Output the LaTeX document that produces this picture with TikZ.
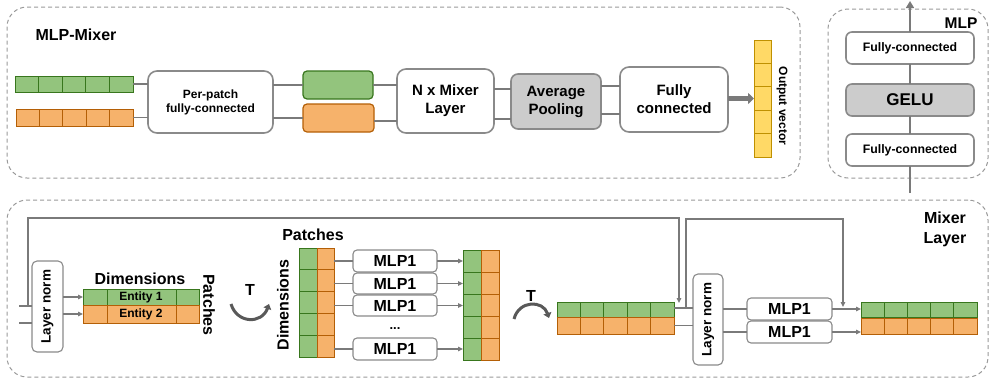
\documentclass[tikz,border=0pt]{standalone}
\usepackage{fontspec}
\setmainfont{Liberation Sans}
\usetikzlibrary{arrows.meta,calc}
\definecolor{gfill}{HTML}{93C47D}
\definecolor{gline}{HTML}{38761D}
\definecolor{ofill}{HTML}{F6B26B}
\definecolor{oline}{HTML}{B45F06}
\definecolor{yfill}{HTML}{FFD966}
\definecolor{yline}{HTML}{BF9000}
\definecolor{bord}{HTML}{8A8A8A}
\definecolor{conn}{HTML}{7A7A7A}
\definecolor{gelu}{HTML}{CCCCCC}
\definecolor{frame}{HTML}{9A9A9A}
\definecolor{curv}{HTML}{595959}
\newcommand\fs[2]{\fontsize{#1}{#2}\selectfont}
\newcommand\mkbox[7][]{%
  \pgfmathsetmacro\bxX{(#3+#5)/2}\pgfmathsetmacro\bxY{(#4+#6)/2}%
  \pgfmathsetmacro\bxW{abs(#5-#3)}\pgfmathsetmacro\bxH{abs(#6-#4)}%
  \node[#1, minimum width=\bxW pt, minimum height=\bxH pt] (#2) at (\bxX,\bxY) {#7};}
\newcommand\hcells[3]{\foreach \i in {1,...,#2}{\ifnum\i<#2\relax
  \draw[#3] ($(#1.south west)!{\i/#2}!(#1.south east)$) -- ($(#1.north west)!{\i/#2}!(#1.north east)$);\fi}}
\newcommand\vcells[3]{\foreach \i in {1,...,#2}{\ifnum\i<#2\relax
  \draw[#3] ($(#1.north west)!{\i/#2}!(#1.south west)$) -- ($(#1.north east)!{\i/#2}!(#1.south east)$);\fi}}
\tikzset{
  rect/.style={inner sep=0pt, outer sep=0pt},
  grw/.style={rect, draw=gline, fill=gfill, line width=1pt},
  orw/.style={rect, draw=oline, fill=ofill, line width=1pt},
  yrw/.style={rect, draw=yline, fill=yfill, line width=1pt},
  gcl/.style={draw=gline, line width=1pt},
  ocl/.style={draw=oline, line width=1pt},
  ycl/.style={draw=yline, line width=1pt},
  rbox/.style={rect, draw=bord, line width=1.6pt, fill=white, rounded corners=9pt, align=center, font=\bfseries\fs{15}{18}},
  sbox/.style={rect, draw=bord, line width=1.1pt, fill=white, rounded corners=4pt, align=center, font=\bfseries\fs{16}{18}},
  frm/.style={rect, draw=frame, line width=1pt, dash pattern=on 4pt off 3pt, rounded corners=20pt},
  cn/.style={draw=conn, line width=1.2pt},
  cna/.style={cn, -{Triangle[length=5pt,width=4.5pt]}},
  lbl/.style={font=\bfseries\fs{16}{20}, inner sep=0pt, align=center},
  tarc/.style={draw=curv, line width=3pt, -{Triangle[length=5pt,width=8pt]}},
}
\begin{document}
\begin{tikzpicture}[x=1pt,y=-1pt]
\useasboundingbox (0,0) rectangle (990,381);
% frames
\mkbox[frm]{fmix}{7}{7}{800}{178}{}
\mkbox[frm]{fmlp}{828}{9}{988}{178}{}
\mkbox[frm]{flay}{7}{200}{988}{377}{}
\node[lbl] (tmix) at (76,35) {MLP-Mixer};
\node[lbl, font=\bfseries\fs{15.5}{18}] (tmlp) at (961,23) {MLP};
\node[lbl] (tlay) at (945,229) {Mixer\\Layer};

% ===== top: MLP-Mixer =====
\mkbox[grw]{gr1}{15}{76}{133}{92}{}
\hcells{gr1}{5}{gcl}
\mkbox[orw]{or1}{16}{109}{133}{126}{}
\hcells{or1}{5}{ocl}
\mkbox[rbox, font=\bfseries\fs{12}{14}]{pp}{148}{71}{273}{133}{Per-patch\\fully-connected}
\mkbox[rect, draw=gline, fill=gfill, line width=1.2pt, rounded corners=4pt]{gb}{303}{71}{373}{99}{}
\mkbox[rect, draw=oline, fill=ofill, line width=1.2pt, rounded corners=4pt]{ob}{303}{104}{374}{132}{}
\mkbox[rbox]{nx}{397}{69}{494}{133}{N x Mixer\\Layer}
\mkbox[rbox, fill=gelu, rounded corners=7pt]{ap}{511}{74}{601}{129}{Average\\Pooling}
\mkbox[rbox]{fc}{620}{67}{728}{132}{Fully\\connected}
\mkbox[yrw]{ov}{754}{40}{771}{157}{}
\vcells{ov}{5}{ycl}
\node[lbl, font=\bfseries\fs{12}{14}, rotate=-90] (ovt) at (782,106) {Output vector};

\draw[cn] (gr1.east) -- (pp.west |- gr1.east);
\draw[cn] (or1.east) -- (pp.west |- or1.east);
\draw[cn] (pp.east |- gb.west) -- (gb.west);
\draw[cn] (pp.east |- ob.west) -- (ob.west);
\draw[cn] (gb.east) -- (nx.west |- gb.east);
\draw[cn] (ob.east |- 0,121) -- (nx.west |- 0,121);
\draw[cn] (nx.east |- 0,89) -- (ap.west |- 0,89);
\draw[cn] (nx.east |- 0,119) -- (ap.west |- 0,119);
\draw[cn] (ap.east |- 0,86) -- (fc.west |- 0,86);
\draw[cn] (ap.east |- 0,114) -- (fc.west |- 0,114);
\draw[draw=conn, line width=4.5pt, -{Triangle[length=6pt,width=11pt]}] (fc.east |- ov.west) -- (ov.west);

% ===== top: MLP =====
\coordinate (mb) at (910,193);
\coordinate (mt) at (910,1);
\mkbox[rbox, font=\bfseries\fs{12.3}{14}, rounded corners=6pt]{fc1}{846}{32}{974}{64}{Fully-connected}
\mkbox[rbox, font=\bfseries\fs{17}{18}, fill=gelu, rounded corners=6pt]{gl}{846}{84}{974}{116}{GELU}
\mkbox[rbox, font=\bfseries\fs{12.3}{14}, rounded corners=6pt]{fc2}{846}{134}{974}{166}{Fully-connected}
\draw[cn, line width=1.6pt] (mb) -- (fc2.south);
\draw[cn, line width=1.6pt] (fc2.north) -- (gl.south);
\draw[cn, line width=1.6pt] (gl.north) -- (fc1.south);
\draw[cn, line width=1.6pt, -{Triangle[length=7pt,width=8pt]}] (fc1.north) -- (mt);

% ===== bottom: Mixer Layer =====
\coordinate (i1) at (19,306);
\coordinate (i2) at (19,323);
\coordinate (s1) at (28,306);
\coordinate (s1t) at (679,303);
\coordinate (s2) at (686,308);
\coordinate (s2t) at (843,307);
\draw[cna] (s1) |- ($(s1t)+(0,-85)$) -- (s1t);
\draw[cna] (s2) |- ($(s2t)+(0,-88)$) -- (s2t);

\mkbox[sbox, rounded corners=5pt]{ln1}{32}{261}{63}{352}{}
\node[lbl, font=\bfseries\fs{13.5}{16}, rotate=90] (ln1t) at (ln1.center) {Layer norm};
\draw[cn] (i1) -- (ln1.west |- i1);
\draw[cn] (i2) -- (ln1.west |- i2);

\mkbox[grw, font=\bfseries\fs{12}{14}]{dg}{83}{289}{199}{305}{Entity 1}
\mkbox[orw, font=\bfseries\fs{12}{14}]{do}{83}{305}{199}{323}{Entity 2}
\draw[gcl] (107,289) -- (107,305);
\draw[gcl] (176,289) -- (176,305);
\draw[ocl] (107,305) -- (107,323);
\draw[ocl] (176,305) -- (176,323);
\draw[cna] (ln1.east |- dg.west) -- (dg.west);
\draw[cna] (ln1.east |- do.west) -- (do.west);
\node[lbl] (tdim) at (140,279) {Dimensions};
\node[lbl, rotate=-90] (tpat) at (209,305) {Patches};

\node[lbl] (t1) at (250,290) {T};
\draw[tarc] (231,304) .. controls (237,324) and (262,324) .. (269,304);

\mkbox[grw]{pg}{299}{248}{317}{357}{}
\vcells{pg}{5}{gcl}
\mkbox[orw]{po}{317}{248}{334}{357}{}
\vcells{po}{5}{ocl}
\node[lbl] (tpat2) at (313,235) {Patches};
\node[lbl, rotate=90] (tdim2) at (283,305) {Dimensions};

\mkbox[sbox]{m1}{353}{250}{437}{272}{MLP1}
\mkbox[sbox]{m2}{353}{273}{437}{294}{MLP1}
\mkbox[sbox]{m3}{353}{295}{437}{316}{MLP1}
\mkbox[sbox]{m4}{353}{338}{437}{360}{MLP1}
\node[lbl, font=\bfseries\fs{13}{14}] (dots) at (395,329) {...};

\mkbox[grw]{qg}{463}{250}{481}{360}{}
\vcells{qg}{5}{gcl}
\mkbox[orw]{qo}{481}{250}{499}{360}{}
\vcells{qo}{5}{ocl}

\draw[cn] (po.east |- m1.west) -- (m1.west);
\draw[cn] (po.east |- m2.west) -- (m2.west);
\draw[cn] (po.east |- m3.west) -- (m3.west);
\draw[cn] (po.east |- m4.west) -- (m4.west);
\draw[cna] (m1.east) -- (qg.west |- m1.east);
\draw[cna] (m2.east) -- (qg.west |- m2.east);
\draw[cna] (m3.east) -- (qg.west |- m3.east);
\draw[cna] (m4.east) -- (qg.west |- m4.east);

\node[lbl] (t2) at (531,296) {T};
\draw[tarc] (514,319) .. controls (519,300) and (543,300) .. (549,318);

\mkbox[grw]{rg}{557}{302}{674}{317}{}
\hcells{rg}{5}{gcl}
\mkbox[orw]{ro}{557}{317}{674}{334}{}
\hcells{ro}{5}{ocl}

\mkbox[sbox, rounded corners=5pt]{ln2}{693}{274}{723}{365}{}
\node[lbl, font=\bfseries\fs{13.5}{16}, rotate=90] (ln2t) at (ln2.center) {Layer norm};
\draw[cn] (rg.east |- s2) -- (ln2.west |- s2);
\draw[cn] (ro.east) -- (ln2.west |- ro.east);

\mkbox[sbox]{n1}{747}{298}{832}{320}{MLP1}
\mkbox[sbox]{n2}{747}{321}{832}{343}{MLP1}
\draw[cn] (ln2.east |- n1.west) -- (n1.west);
\draw[cn] (ln2.east |- n2.west) -- (n2.west);

\mkbox[grw]{og}{861}{302}{977}{317}{}
\hcells{og}{5}{gcl}
\mkbox[orw]{oo}{861}{318}{977}{334}{}
\hcells{oo}{5}{ocl}
\draw[cna] (n1.east) -- (og.west |- n1.east);
\draw[cna] (n2.east) -- (oo.west |- n2.east);
\end{tikzpicture}
\end{document}
